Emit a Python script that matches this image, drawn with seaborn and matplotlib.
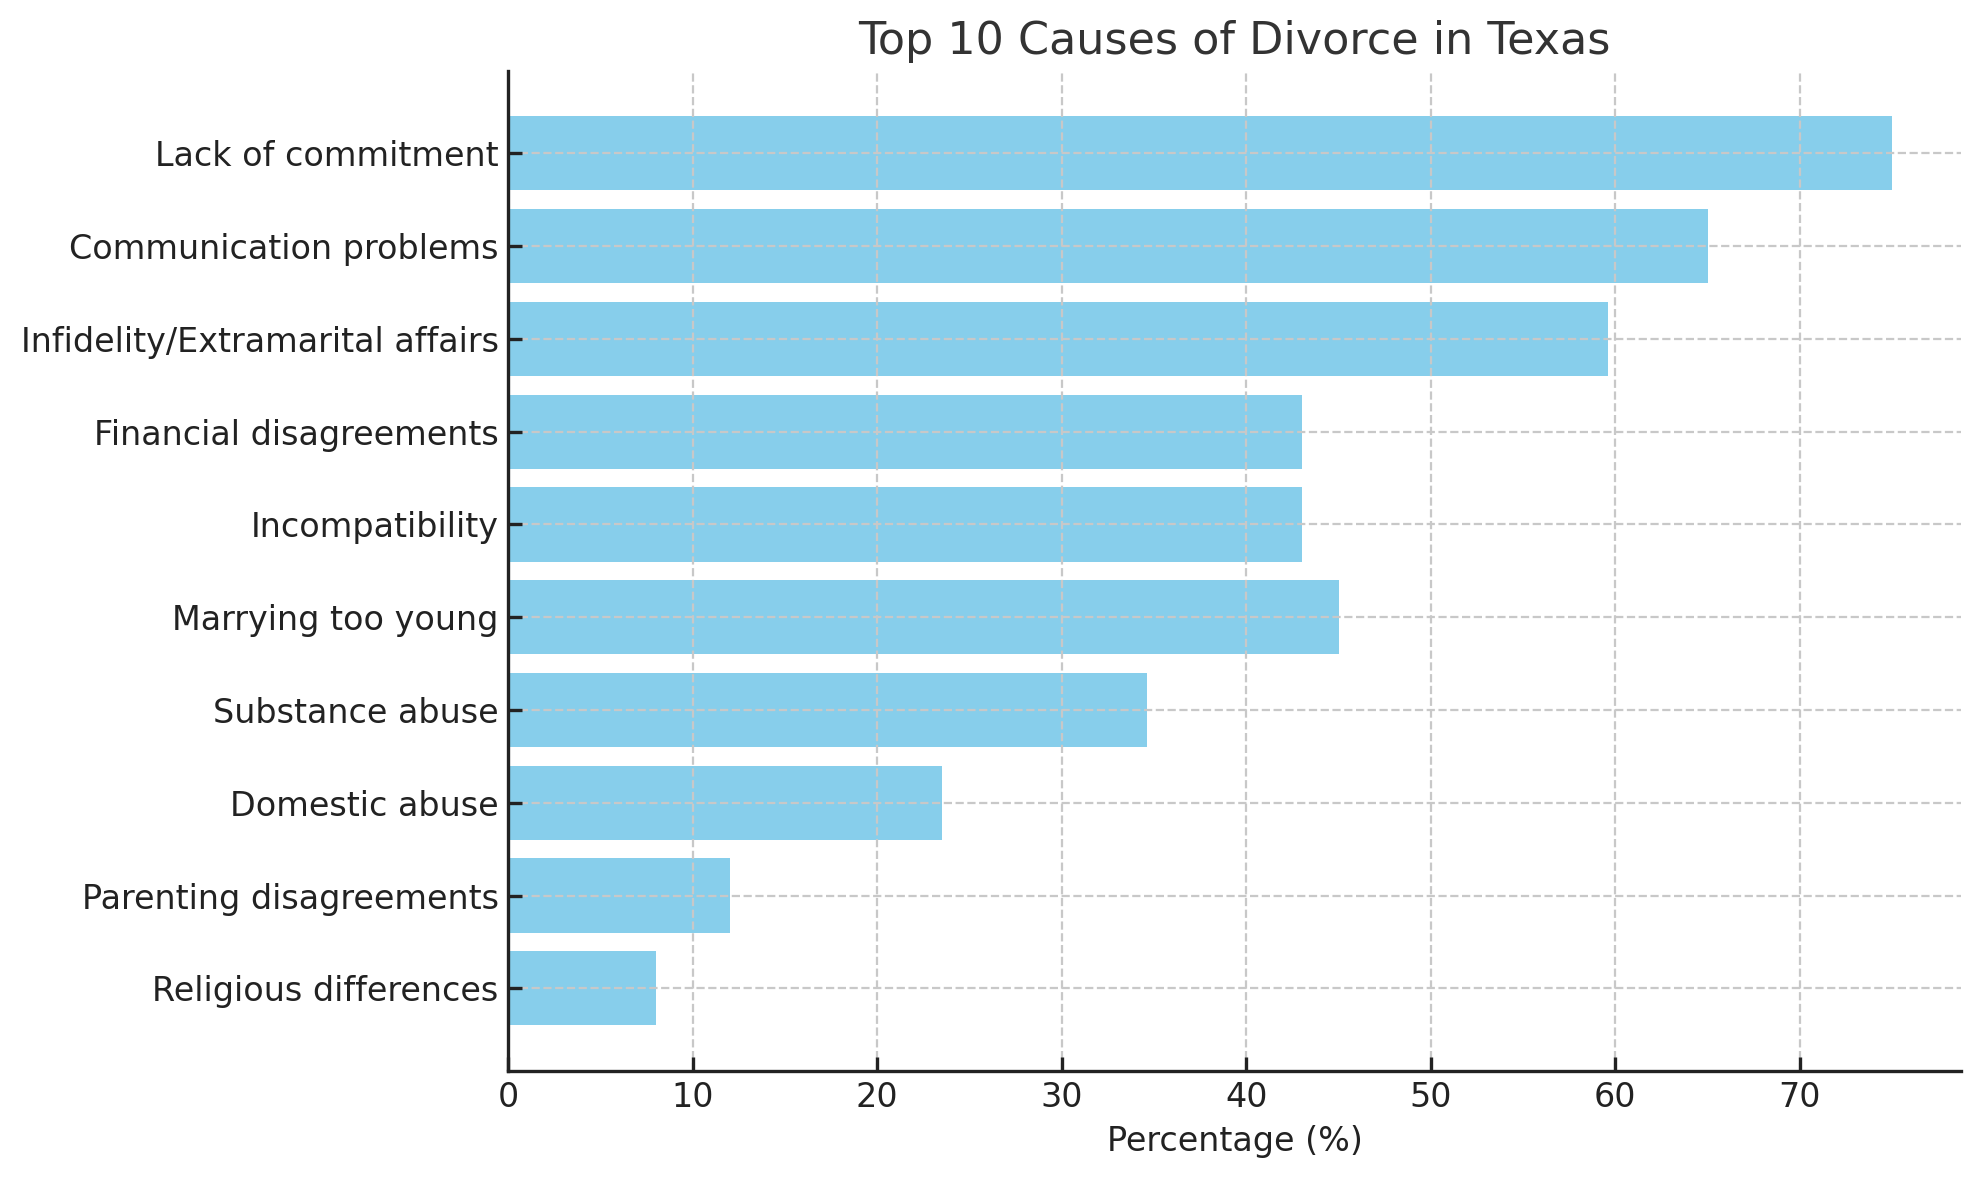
import matplotlib
matplotlib.use('Agg')
import matplotlib.pyplot as plt
import pandas as pd
import seaborn as sns

causes = [
    'Lack of commitment',
    'Communication problems',
    'Infidelity/Extramarital affairs',
    'Financial disagreements',
    'Incompatibility',
    'Marrying too young',
    'Substance abuse',
    'Domestic abuse',
    'Parenting disagreements',
    'Religious differences',
]
percentages = [75, 65, 59.6, 43, 43, 45, 34.6, 23.5, 12, 8]

df = pd.DataFrame({'Cause': causes, 'Percentage': percentages})

sns.set_theme(style='white')
plt.rcParams['font.family'] = ['DejaVu Sans']

fig, ax = plt.subplots(figsize=(9.9, 5.9), dpi=200)
fig.subplots_adjust(left=0.2567, right=0.9905, top=0.940, bottom=0.0925)

sns.barplot(data=df, x='Percentage', y='Cause', color='skyblue',
            saturation=1, width=0.8, orient='h', linewidth=0,
            edgecolor='none', ax=ax)

ax.set_title('Top 10 Causes of Divorce in Texas', fontsize=16, color='#333333')
ax.set_xlabel('Percentage (%)', fontsize=12, color='#222222')
ax.set_ylabel('')
ax.set_xlim(0, max(percentages) * 1.05)
ax.set_ylim(len(causes) - 1 + 0.89, -0.89)

# dashed grid drawn over the bars, spines on top of everything
ax.grid(True, linestyle='--', color='#c8c8c8', linewidth=0.8)
ax.set_axisbelow(False)
for bar in ax.patches:
    bar.set_zorder(1)

sns.despine(ax=ax)
for s in ['left', 'bottom']:
    ax.spines[s].set_color('#222222')
    ax.spines[s].set_linewidth(1.2)
    ax.spines[s].set_zorder(5)
ax.tick_params(axis='both', labelsize=12, colors='#222222', direction='in',
               length=5, width=1.2, left=True, bottom=True)

fig.savefig('out.png')
